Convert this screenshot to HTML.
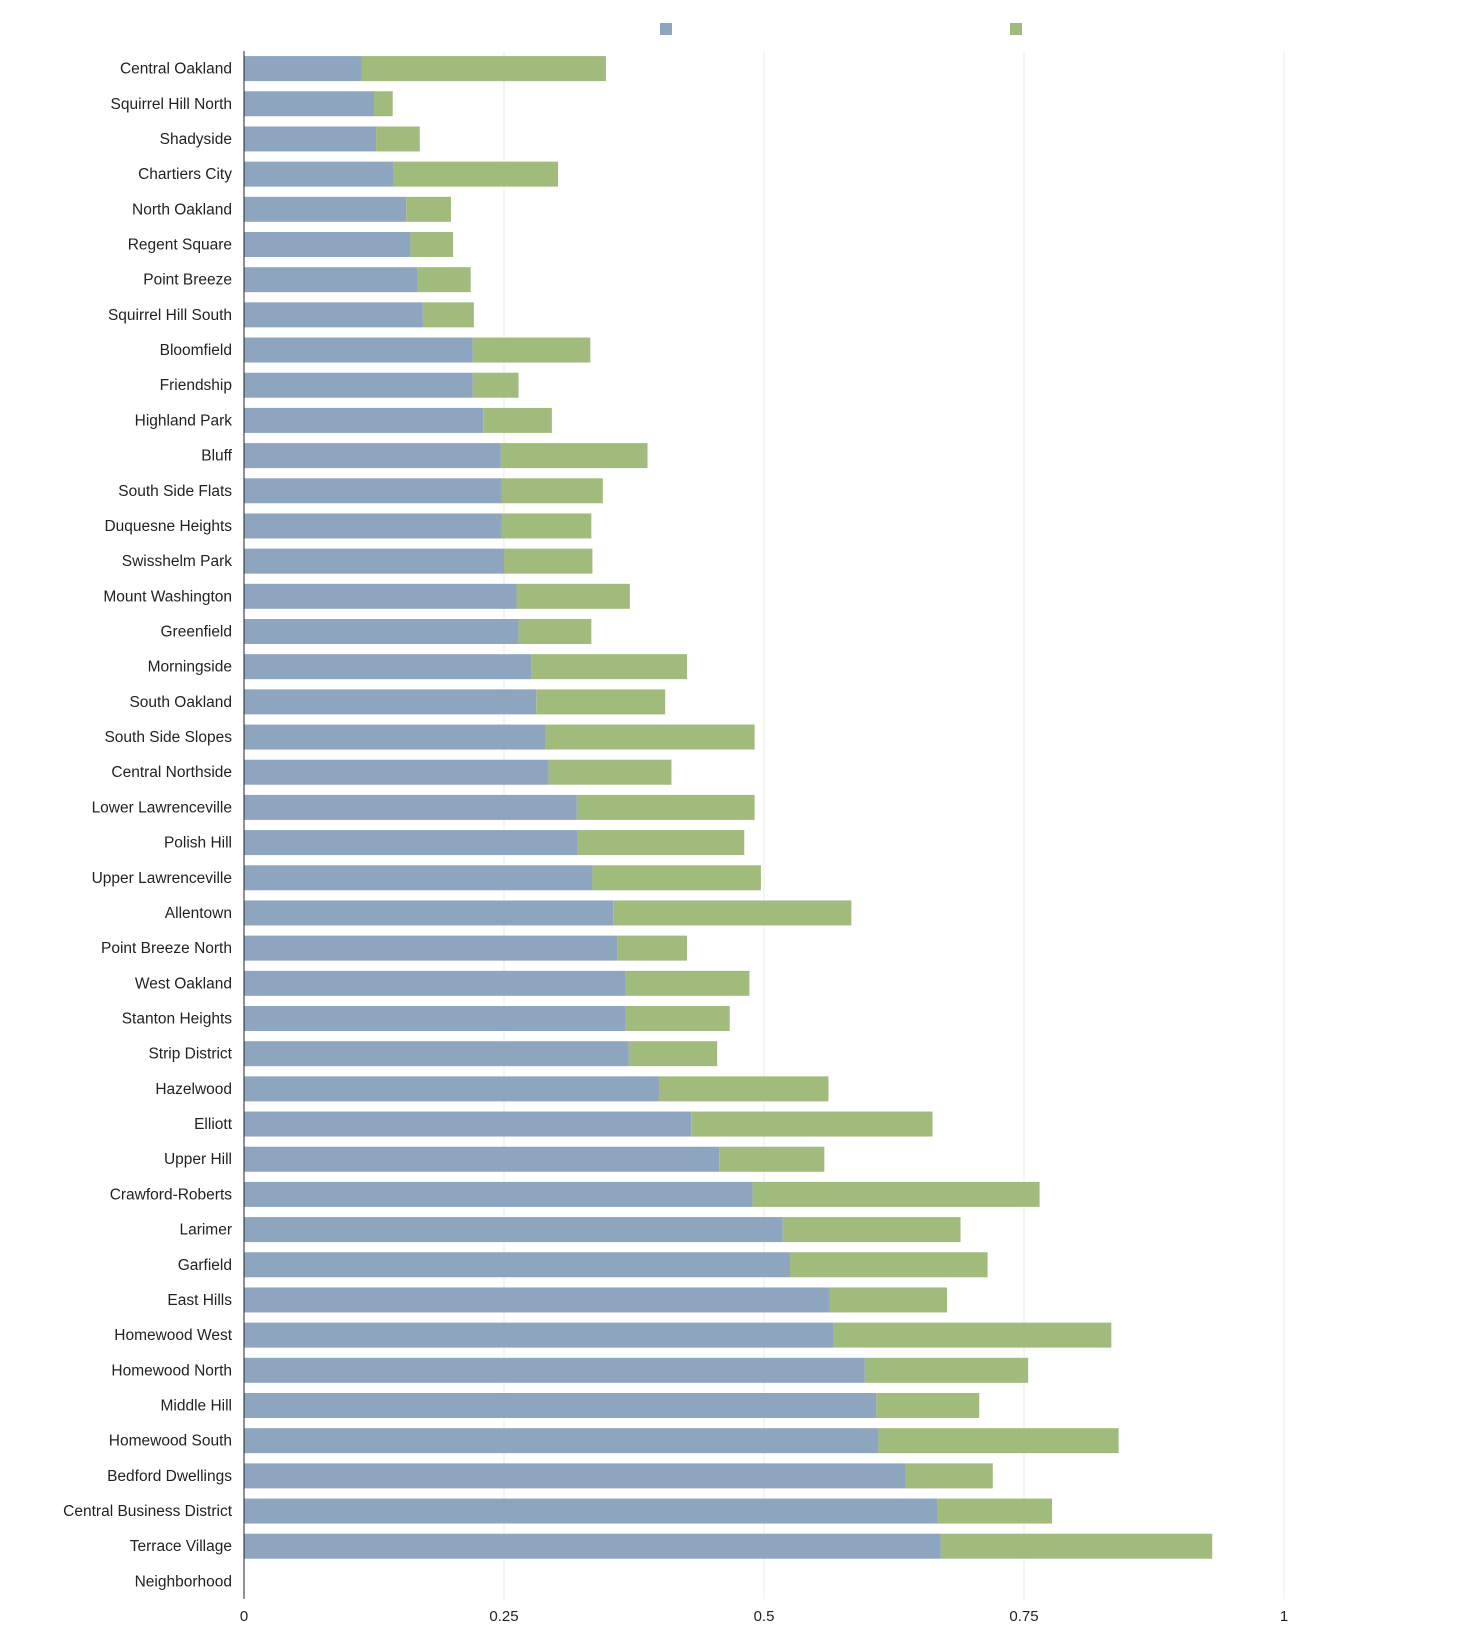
<!DOCTYPE html>
<html><head><meta charset="utf-8"><style>
html,body{margin:0;padding:0;background:#fff;}
svg{display:block;font-family:"Liberation Sans",Arial,sans-serif;}
</style></head><body>
<svg id="chart" width="1468" height="1644">
<rect x="660" y="23" width="12" height="12" fill="#8da5bf"/>
<rect x="1010" y="23" width="12" height="12" fill="#a0bb7c"/>
<g id="grid"></g><g id="bars"></g><g id="labels"></g><g id="ticks"></g>
<line x1="244" y1="51" x2="244" y2="1599" stroke="#222" stroke-width="1"/>
</svg>
<script>
const categories=["Central Oakland","Squirrel Hill North","Shadyside","Chartiers City","North Oakland","Regent Square","Point Breeze","Squirrel Hill South","Bloomfield","Friendship","Highland Park","Bluff","South Side Flats","Duquesne Heights","Swisshelm Park","Mount Washington","Greenfield","Morningside","South Oakland","South Side Slopes","Central Northside","Lower Lawrenceville","Polish Hill","Upper Lawrenceville","Allentown","Point Breeze North","West Oakland","Stanton Heights","Strip District","Hazelwood","Elliott","Upper Hill","Crawford-Roberts","Larimer","Garfield","East Hills","Homewood West","Homewood North","Middle Hill","Homewood South","Bedford Dwellings","Central Business District","Terrace Village","Neighborhood"];
const seriesA=[0.113,0.125,0.127,0.144,0.156,0.160,0.167,0.172,0.220,0.220,0.230,0.247,0.248,0.248,0.250,0.262,0.264,0.276,0.281,0.290,0.293,0.320,0.321,0.335,0.355,0.359,0.367,0.367,0.370,0.399,0.430,0.457,0.489,0.518,0.525,0.563,0.567,0.597,0.608,0.610,0.636,0.667,0.670,null];
const seriesB=[0.235,0.018,0.042,0.158,0.043,0.041,0.051,0.049,0.113,0.044,0.066,0.141,0.097,0.086,0.085,0.109,0.070,0.150,0.124,0.201,0.118,0.171,0.160,0.162,0.229,0.067,0.119,0.100,0.085,0.163,0.232,0.101,0.276,0.171,0.190,0.113,0.267,0.157,0.099,0.231,0.084,0.110,0.261,null];
const tickValues=[0,0.25,0.5,0.75,1];
const tickLabels=["0","0.25","0.5","0.75","1"];
const NS="http://www.w3.org/2000/svg";
const x0=244,x1=1284,plotTop=51,plotBottom=1599;
const band=(plotBottom-plotTop)/categories.length;
function xs(v){return x0+v*(x1-x0);}
function yc(i){return plotTop+band*(i+0.5);}
function mk(t,a,p){const e=document.createElementNS(NS,t);for(const k in a)e.setAttribute(k,a[k]);document.getElementById(p).appendChild(e);return e;}
tickValues.forEach((v,i)=>{
 if(v>0){const g=mk('line',{x1:xs(v),x2:xs(v),y1:plotTop,y2:plotBottom,stroke:'#ebebeb','stroke-width':1},'grid');
 
 }
 const t=mk('text',{x:xs(v),y:1621,'text-anchor':'middle','font-size':15,fill:'#222'},'ticks');
 t.textContent=tickLabels[i];
 
 
});
categories.forEach((c,i)=>{
 const t=mk('text',{x:232,y:yc(i)+5,'text-anchor':'end','font-size':15.5,fill:'#222'},'labels');
 t.textContent=c;
 
 
 if(seriesA[i]==null)return;
 const h=25,y=yc(i)-h/2;
 const a=mk('rect',{x:xs(0),y:y,width:xs(seriesA[i])-xs(0),height:h,fill:'#8da5bf'},'bars');
 
 
 const b=mk('rect',{x:xs(seriesA[i]),y:y,width:xs(seriesA[i]+seriesB[i])-xs(seriesA[i]),height:h,fill:'#a0bb7c'},'bars');
 
 
});
</script>
</body></html>
